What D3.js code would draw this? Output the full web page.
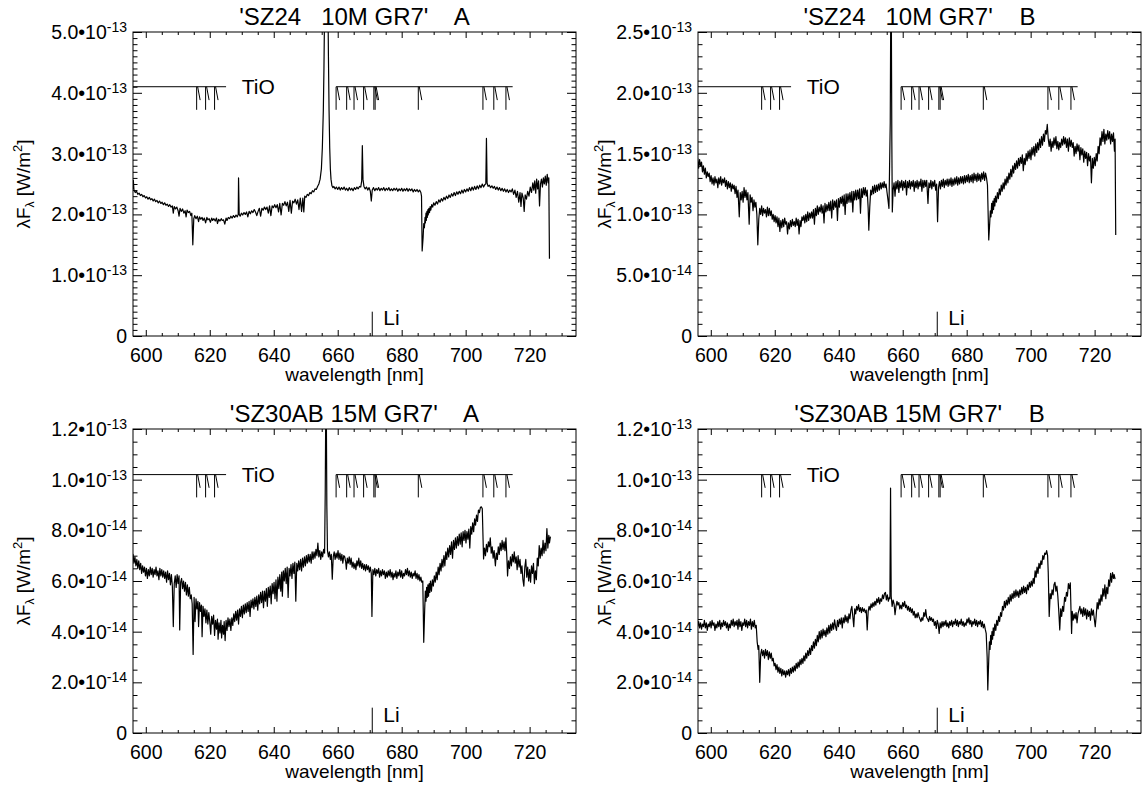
<!DOCTYPE html>
<html>
<head>
<meta charset="utf-8">
<title>SZ24 / SZ30AB spectra</title>
<script src="https://cdn.jsdelivr.net/npm/d3@7"></script>
<style>
  body { margin: 0; background: #fff; }
  svg text { font-family: "Liberation Sans", Arial, Helvetica, sans-serif; fill: #000; }
</style>
</head>
<body>
<svg id="chart" width="1145" height="788"></svg>
<script>
// spectra: [wavelength nm, lambda*F_lambda]
// SZ24 in units of 1e-13 W/m2
const sz24A = [[595.6,2.40],[596.0,2.44],[596.1,2.56],[596.3,2.40],[596.7,2.36],[597.1,2.38],[597.5,2.33],[597.9,2.35],[598.3,2.31],[598.7,2.33],[599.1,2.29],[599.5,2.31],[599.9,2.27],[600.3,2.29],[600.7,2.25],[601.1,2.28],[601.5,2.24],[601.9,2.26],[602.3,2.22],[602.7,2.25],[603.1,2.21],[603.5,2.23],[603.9,2.19],[604.3,2.22],[604.7,2.18],[605.1,2.20],[605.5,2.16],[605.9,2.19],[606.3,2.15],[606.7,2.17],[607.1,2.13],[607.5,2.16],[607.9,2.12],[608.3,2.14],[608.6,2.02],[608.9,2.13],[609.3,2.09],[609.7,2.12],[610.1,2.06],[610.4,1.97],[610.7,2.10],[611.1,2.05],[611.5,2.09],[611.9,2.02],[612.3,2.06],[612.6,1.96],[612.9,2.07],[613.3,2.03],[613.7,2.05],[614.1,1.98],[614.4,2.02],[614.7,1.50],[615.0,1.93],[615.3,1.98],[615.7,1.93],[616.1,1.97],[616.5,1.88],[616.8,1.96],[617.2,1.92],[617.6,1.95],[617.9,1.90],[618.3,1.94],[618.7,1.86],[619.1,1.95],[619.4,1.91],[619.8,1.93],[620.2,1.87],[620.6,1.94],[620.9,1.90],[621.3,1.93],[621.7,1.89],[622.1,1.94],[622.4,1.85],[622.8,1.92],[623.2,1.89],[623.6,1.93],[623.9,1.90],[624.3,1.91],[624.7,1.84],[625.1,1.94],[625.4,1.90],[625.8,1.95],[626.2,1.93],[626.6,1.97],[627.0,1.94],[627.4,1.98],[627.8,1.95],[628.2,1.99],[628.6,1.96],[628.9,2.00],[629.0,2.60],[629.2,2.00],[629.5,1.97],[629.9,2.02],[630.3,1.99],[630.7,2.03],[631.1,2.00],[631.5,2.04],[631.9,1.96],[632.3,2.05],[632.7,2.01],[633.1,2.06],[633.5,2.03],[633.9,2.08],[634.3,2.04],[634.7,1.98],[635.1,2.05],[635.5,2.10],[635.9,1.97],[636.3,2.10],[636.7,2.07],[637.1,2.12],[637.5,2.08],[637.9,2.12],[638.3,2.02],[638.7,2.14],[639.1,1.98],[639.5,2.14],[639.9,2.11],[640.3,2.16],[640.7,2.11],[641.1,2.16],[641.5,2.04],[641.9,2.18],[642.3,1.99],[642.7,2.18],[643.1,2.15],[643.5,2.21],[643.9,2.14],[644.3,2.20],[644.7,2.05],[645.1,2.23],[645.5,2.02],[645.9,2.22],[646.3,2.19],[646.7,2.25],[647.1,2.17],[647.5,2.24],[647.9,2.08],[648.3,2.27],[648.7,2.05],[649.1,2.27],[649.4,2.04],[649.7,2.30],[650.1,2.28],[650.5,2.33],[650.9,2.31],[651.3,2.36],[651.7,2.34],[652.1,2.39],[652.5,2.37],[652.9,2.42],[653.3,2.41],[653.7,2.46],[654.1,2.50],[654.5,2.58],[654.9,2.75],[655.2,3.1],[655.5,3.7],[655.7,4.4],[655.9,5.4],[656.1,6.5],[656.4,7.5],[656.7,7.0],[656.9,5.8],[657.1,4.6],[657.3,3.7],[657.5,3.1],[657.7,2.75],[657.9,2.58],[658.2,2.47],[658.5,2.44],[658.8,2.46],[659.2,2.42],[659.6,2.45],[660.0,2.41],[660.4,2.45],[660.8,2.40],[661.2,2.44],[661.6,2.41],[662.0,2.45],[662.4,2.40],[662.8,2.43],[663.2,2.39],[663.6,2.44],[664.0,2.40],[664.4,2.43],[664.8,2.39],[665.2,2.44],[665.6,2.41],[666.0,2.45],[666.4,2.42],[666.8,2.46],[667.2,2.45],[667.5,2.55],[667.7,3.13],[667.9,2.58],[668.2,2.46],[668.6,2.42],[669.0,2.45],[669.4,2.40],[669.8,2.44],[670.2,2.38],[670.5,2.22],[670.8,2.40],[671.2,2.44],[671.6,2.39],[672.0,2.43],[672.4,2.40],[672.8,2.44],[673.2,2.39],[673.6,2.43],[674.0,2.40],[674.4,2.44],[674.8,2.39],[675.2,2.43],[675.6,2.40],[676.0,2.44],[676.4,2.39],[676.8,2.42],[677.2,2.39],[677.6,2.43],[678.0,2.40],[678.4,2.43],[678.8,2.38],[679.2,2.42],[679.6,2.39],[680.0,2.43],[680.4,2.38],[680.8,2.42],[681.2,2.39],[681.6,2.43],[682.0,2.38],[682.4,2.42],[682.8,2.39],[683.2,2.42],[683.6,2.37],[684.0,2.41],[684.4,2.38],[684.8,2.41],[685.2,2.37],[685.6,2.40],[686.0,2.36],[686.2,2.30],[686.4,1.40],[686.7,1.62],[686.9,1.85],[687.1,1.78],[687.3,1.95],[687.4,1.86],[687.6,2.02],[687.7,1.90],[687.9,2.05],[688.0,1.95],[688.2,2.08],[688.3,1.99],[688.5,2.10],[688.7,2.03],[688.9,2.13],[689.1,2.07],[689.4,2.16],[689.7,2.12],[690.0,2.19],[690.4,2.15],[690.8,2.21],[691.2,2.17],[691.6,2.24],[692.0,2.20],[692.4,2.26],[692.8,2.22],[693.2,2.28],[693.6,2.24],[694.0,2.30],[694.4,2.26],[694.8,2.32],[695.2,2.28],[695.6,2.34],[696.0,2.30],[696.4,2.36],[696.8,2.31],[697.2,2.37],[697.6,2.33],[698.0,2.38],[698.4,2.34],[698.8,2.40],[699.2,2.35],[699.6,2.41],[700.0,2.37],[700.4,2.42],[700.8,2.38],[701.2,2.44],[701.6,2.39],[702.0,2.45],[702.4,2.40],[702.8,2.46],[703.2,2.41],[703.6,2.47],[704.0,2.42],[704.4,2.48],[704.8,2.44],[705.2,2.50],[705.6,2.45],[706.0,2.49],[706.3,2.50],[706.5,3.25],[706.7,2.52],[707.0,2.46],[707.4,2.48],[707.8,2.44],[708.2,2.47],[708.6,2.43],[709.0,2.46],[709.4,2.41],[709.8,2.45],[710.2,2.40],[710.6,2.44],[711.0,2.39],[711.4,2.43],[711.8,2.38],[712.2,2.42],[712.6,2.37],[713.0,2.41],[713.4,2.36],[713.8,2.40],[714.2,2.37],[714.6,2.42],[715.0,2.33],[715.4,2.40],[715.8,2.28],[716.2,2.38],[716.6,2.20],[717.0,2.36],[717.3,2.13],[717.6,2.35],[718.0,2.27],[718.3,2.05],[718.6,2.32],[719.0,2.25],[719.4,2.38],[719.8,2.30],[720.2,2.45],[720.6,2.36],[721.0,2.52],[721.3,2.40],[721.6,2.55],[721.9,2.35],[722.2,2.58],[722.5,2.42],[722.8,2.55],[723.1,2.14],[723.4,2.50],[723.7,2.58],[724.0,2.45],[724.3,2.60],[724.6,2.50],[724.9,2.63],[725.2,2.48],[725.5,2.66],[725.8,2.52],[726.0,2.60],[726.2,1.27]];

const sz24B = [[595.5,1.49],[595.7,1.42],[595.9,1.46],[596.2,1.38],[596.5,1.45],[596.8,1.40],[597.1,1.43],[597.4,1.35],[597.7,1.40],[598.0,1.33],[598.3,1.38],[598.6,1.30],[598.9,1.35],[599.2,1.31],[599.5,1.34],[599.8,1.27],[600.1,1.32],[600.4,1.25],[600.7,1.30],[601.0,1.24],[601.3,1.31],[601.6,1.26],[601.9,1.29],[602.2,1.22],[602.5,1.30],[602.8,1.25],[603.1,1.31],[603.4,1.24],[603.7,1.29],[604.0,1.26],[604.3,1.30],[604.6,1.23],[604.9,1.28],[605.2,1.21],[605.5,1.27],[605.8,1.22],[606.1,1.26],[606.4,1.19],[606.7,1.25],[607.0,1.21],[607.3,1.24],[607.6,1.17],[607.9,1.23],[608.2,1.14],[608.5,1.20],[608.9,0.98],[609.2,1.18],[609.5,1.12],[609.8,1.19],[610.1,1.10],[610.4,1.22],[610.7,1.14],[611.0,1.20],[611.3,1.12],[611.6,1.18],[612.0,0.92],[612.3,1.16],[612.6,1.10],[612.9,1.14],[613.2,1.03],[613.5,1.12],[613.8,1.06],[614.1,1.10],[614.4,1.00],[614.7,0.75],[615.0,0.96],[615.3,1.05],[615.6,1.00],[615.9,1.07],[616.2,0.99],[616.5,1.05],[616.8,1.01],[617.1,1.04],[617.4,0.98],[617.7,1.06],[618.0,0.99],[618.3,1.05],[618.6,0.99],[618.9,1.03],[619.2,0.96],[619.5,1.00],[619.8,0.94],[620.1,0.99],[620.4,0.93],[620.7,0.98],[621.0,0.90],[621.3,0.97],[621.6,0.86],[621.9,0.95],[622.2,0.89],[622.5,0.96],[622.8,0.90],[623.1,0.97],[623.4,0.92],[623.7,0.94],[624.0,0.84],[624.3,0.93],[624.6,0.88],[624.9,0.95],[625.2,0.90],[625.5,0.96],[625.8,0.91],[626.1,0.94],[626.4,0.90],[626.7,0.97],[627.0,0.91],[627.3,0.96],[627.6,0.84],[627.9,0.95],[628.2,0.90],[628.5,0.98],[628.8,0.95],[629.1,0.99],[629.4,0.93],[629.7,1.00],[630.0,0.94],[630.3,1.02],[630.6,0.95],[630.9,1.01],[631.2,0.97],[631.5,1.02],[631.8,0.97],[632.1,1.04],[632.4,0.92],[632.7,1.05],[633.0,0.99],[633.3,1.07],[633.6,1.00],[633.9,1.06],[634.2,1.02],[634.5,1.08],[634.8,1.01],[635.1,1.07],[635.4,0.93],[635.7,1.09],[636.0,1.02],[636.3,1.08],[636.6,1.03],[636.9,1.10],[637.2,1.03],[637.5,1.11],[637.8,0.97],[638.1,1.12],[638.4,1.04],[638.7,1.11],[639.0,1.06],[639.3,1.12],[639.6,0.95],[639.9,1.13],[640.2,1.06],[640.5,1.14],[640.8,1.09],[641.1,1.15],[641.4,1.07],[641.7,1.16],[642.0,1.00],[642.3,1.17],[642.6,1.09],[642.9,1.17],[643.2,1.10],[643.5,1.18],[643.8,1.10],[644.1,1.19],[644.4,1.02],[644.7,1.19],[645.0,1.12],[645.3,1.20],[645.6,1.12],[645.9,1.20],[646.2,1.13],[646.5,1.21],[646.8,1.01],[647.1,1.21],[647.4,1.14],[647.7,1.22],[648.0,1.16],[648.3,1.22],[648.6,1.15],[648.9,1.20],[649.2,1.05],[649.4,0.87],[649.7,1.06],[650.0,1.20],[650.3,1.16],[650.6,1.23],[650.9,1.17],[651.2,1.24],[651.5,1.18],[651.8,1.24],[652.1,1.19],[652.4,1.25],[652.7,1.20],[653.0,1.26],[653.3,1.21],[653.6,1.26],[653.9,1.22],[654.2,1.27],[654.5,1.22],[654.8,1.25],[655.1,1.18],[655.4,1.12],[655.7,1.05],[655.9,1.40],[656.1,1.75],[656.25,2.60],[656.45,2.60],[656.6,1.60],[656.75,1.02],[657.0,1.20],[657.3,1.26],[657.6,1.15],[657.9,1.27],[658.2,1.21],[658.5,1.28],[658.8,1.18],[659.1,1.27],[659.4,1.22],[659.7,1.28],[660.0,1.20],[660.3,1.27],[660.6,1.22],[660.9,1.28],[661.2,1.16],[661.5,1.27],[661.8,1.22],[662.1,1.28],[662.4,1.21],[662.7,1.27],[663.0,1.23],[663.3,1.28],[663.6,1.19],[663.9,1.27],[664.2,1.22],[664.5,1.28],[664.8,1.21],[665.1,1.27],[665.4,1.23],[665.7,1.29],[666.0,1.19],[666.3,1.28],[666.6,1.22],[666.9,1.28],[667.2,1.23],[667.5,1.28],[667.9,1.09],[668.2,1.26],[668.5,1.22],[668.8,1.28],[669.1,1.21],[669.4,1.27],[669.7,1.23],[670.0,1.28],[670.3,1.20],[670.6,1.25],[670.9,0.94],[671.2,1.22],[671.5,1.27],[671.8,1.21],[672.1,1.28],[672.4,1.23],[672.7,1.29],[673.0,1.22],[673.3,1.28],[673.6,1.24],[673.9,1.29],[674.2,1.23],[674.5,1.29],[674.8,1.24],[675.1,1.30],[675.4,1.23],[675.7,1.29],[676.0,1.24],[676.3,1.30],[676.6,1.25],[676.9,1.31],[677.2,1.24],[677.5,1.30],[677.8,1.25],[678.1,1.31],[678.4,1.26],[678.7,1.31],[679.0,1.25],[679.3,1.32],[679.6,1.26],[679.9,1.32],[680.2,1.27],[680.5,1.33],[680.8,1.26],[681.1,1.32],[681.4,1.27],[681.7,1.33],[682.0,1.26],[682.3,1.34],[682.6,1.28],[682.9,1.33],[683.2,1.27],[683.5,1.34],[683.8,1.28],[684.1,1.33],[684.4,1.27],[684.7,1.34],[685.0,1.29],[685.3,1.35],[685.6,1.28],[685.9,1.34],[686.2,1.30],[686.5,1.24],[686.9,0.79],[687.2,0.93],[687.4,1.03],[687.6,0.98],[687.8,1.09],[688.0,1.01],[688.2,1.11],[688.4,1.04],[688.6,1.13],[688.8,1.07],[689.0,1.15],[689.3,1.10],[689.6,1.18],[689.9,1.13],[690.2,1.21],[690.5,1.16],[690.8,1.24],[691.1,1.19],[691.4,1.26],[691.7,1.21],[692.0,1.29],[692.3,1.24],[692.6,1.31],[692.9,1.26],[693.2,1.34],[693.5,1.29],[693.8,1.37],[694.1,1.31],[694.4,1.40],[694.7,1.34],[695.0,1.42],[695.3,1.37],[695.6,1.44],[695.9,1.38],[696.2,1.46],[696.5,1.40],[696.8,1.47],[697.1,1.42],[697.4,1.49],[697.7,1.36],[698.0,1.46],[698.3,1.41],[698.6,1.50],[698.9,1.44],[699.2,1.52],[699.5,1.46],[699.8,1.53],[700.1,1.45],[700.4,1.55],[700.7,1.49],[701.0,1.56],[701.3,1.48],[701.6,1.58],[701.9,1.51],[702.2,1.59],[702.5,1.53],[702.8,1.62],[703.1,1.55],[703.4,1.64],[703.7,1.57],[704.0,1.66],[704.3,1.60],[704.6,1.69],[704.9,1.66],[705.2,1.74],[705.5,1.62],[705.8,1.56],[706.1,1.62],[706.4,1.52],[706.7,1.60],[707.0,1.55],[707.3,1.63],[707.6,1.57],[707.9,1.64],[708.2,1.54],[708.5,1.60],[708.8,1.53],[709.1,1.59],[709.4,1.55],[709.7,1.62],[710.0,1.57],[710.3,1.64],[710.6,1.58],[710.9,1.63],[711.2,1.55],[711.5,1.62],[711.8,1.52],[712.1,1.63],[712.4,1.56],[712.7,1.61],[713.0,1.55],[713.3,1.59],[713.6,1.48],[713.9,1.56],[714.2,1.50],[714.5,1.58],[714.8,1.52],[715.1,1.57],[715.4,1.45],[715.7,1.55],[716.0,1.49],[716.3,1.54],[716.6,1.43],[716.9,1.52],[717.2,1.46],[717.5,1.51],[717.8,1.40],[718.1,1.50],[718.4,1.44],[718.7,1.48],[719.0,1.26],[719.3,1.46],[719.6,1.38],[719.9,1.47],[720.2,1.40],[720.5,1.50],[720.8,1.44],[721.1,1.56],[721.4,1.50],[721.7,1.63],[722.0,1.57],[722.3,1.68],[722.6,1.60],[722.9,1.70],[723.2,1.58],[723.5,1.66],[723.8,1.61],[724.1,1.69],[724.4,1.62],[724.7,1.68],[725.0,1.58],[725.3,1.66],[725.6,1.60],[725.9,1.67],[726.2,1.52],[726.4,1.62],[726.6,0.83]];

// SZ30AB in units of 1e-14 W/m2
const sz30A = [[595.4,7.20],[595.7,6.85],[596.0,7.05],[596.3,6.70],[596.6,6.95],[596.9,6.60],[597.2,6.85],[597.5,6.50],[597.8,6.80],[598.1,6.45],[598.4,6.70],[598.7,6.30],[599.0,6.60],[599.3,6.35],[599.6,6.55],[599.9,6.20],[600.2,6.50],[600.5,6.10],[600.8,6.45],[601.1,6.20],[601.4,6.55],[601.7,6.25],[602.0,6.50],[602.3,6.15],[602.6,6.45],[602.9,6.25],[603.2,6.55],[603.5,6.20],[603.8,6.40],[604.1,6.05],[604.4,6.50],[604.7,6.20],[605.0,6.45],[605.3,6.15],[605.6,6.40],[605.9,6.10],[606.2,6.35],[606.5,5.95],[606.8,6.40],[607.1,6.05],[607.4,6.30],[607.7,5.85],[608.0,6.25],[608.3,5.80],[608.6,4.20],[608.9,5.90],[609.2,6.20],[609.5,5.75],[609.8,6.25],[610.1,5.90],[610.4,6.20],[610.6,4.07],[610.9,5.95],[611.2,6.10],[611.5,5.70],[611.8,6.00],[612.1,5.60],[612.4,5.95],[612.7,5.45],[613.0,5.85],[613.3,5.40],[613.6,5.75],[613.9,5.30],[614.2,5.45],[614.5,5.10],[614.8,3.10],[615.1,5.35],[615.4,4.40],[615.7,5.30],[616.0,4.90],[616.3,5.20],[616.5,4.20],[616.8,5.15],[617.1,4.80],[617.4,5.05],[617.6,3.80],[617.9,5.00],[618.2,4.60],[618.5,4.90],[618.8,4.35],[619.1,4.85],[619.4,4.30],[619.7,4.75],[620.0,4.40],[620.3,3.90],[620.6,4.60],[620.9,4.30],[621.2,4.65],[621.5,3.85],[621.8,4.45],[622.1,4.10],[622.4,4.50],[622.6,3.70],[622.9,4.35],[623.2,3.95],[623.5,4.45],[623.7,3.75],[624.0,4.25],[624.3,3.90],[624.5,4.40],[624.8,3.65],[625.1,4.45],[625.4,4.05],[625.7,4.55],[626.0,4.20],[626.3,4.50],[626.6,4.05],[626.9,4.55],[627.2,4.25],[627.5,4.70],[627.8,4.40],[628.1,4.80],[628.4,4.45],[628.7,4.85],[629.0,4.30],[629.3,4.90],[629.6,4.60],[629.9,5.00],[630.2,4.55],[630.5,5.05],[630.8,4.70],[631.1,5.10],[631.4,4.75],[631.7,5.15],[632.0,4.80],[632.3,5.20],[632.6,4.60],[632.9,5.25],[633.2,4.95],[633.5,5.30],[633.8,4.90],[634.1,5.35],[634.4,5.00],[634.7,5.40],[635.0,4.85],[635.3,5.45],[635.6,5.10],[635.9,5.55],[636.2,5.15],[636.5,5.60],[636.8,4.95],[637.1,5.60],[637.4,5.20],[637.7,5.70],[638.0,5.00],[638.3,5.75],[638.6,5.35],[638.9,5.80],[639.2,5.10],[639.5,5.90],[639.8,5.50],[640.1,5.95],[640.4,5.30],[640.7,6.05],[641.0,5.20],[641.3,6.15],[641.6,5.70],[641.9,6.25],[642.2,5.60],[642.5,6.35],[642.7,5.40],[643.0,6.40],[643.3,6.00],[643.6,6.50],[643.9,5.90],[644.2,6.55],[644.5,5.35],[644.8,6.50],[645.1,6.20],[645.4,6.65],[645.7,6.10],[646.0,6.70],[646.3,6.30],[646.6,6.75],[646.9,5.20],[647.2,6.70],[647.5,6.40],[647.8,6.80],[648.1,6.45],[648.4,6.85],[648.7,6.40],[649.0,6.90],[649.3,6.55],[649.6,6.95],[649.9,6.60],[650.2,7.00],[650.5,6.70],[650.8,7.05],[651.1,6.75],[651.4,7.05],[651.7,6.70],[652.0,7.15],[652.3,6.85],[652.6,7.15],[652.9,6.90],[653.2,7.25],[653.5,7.00],[653.8,7.50],[654.1,6.95],[654.4,7.20],[654.7,6.85],[655.0,7.15],[655.3,6.95],[655.6,7.25],[655.9,7.10],[656.1,9.5],[656.25,12.5],[656.45,12.5],[656.6,9.0],[656.8,7.20],[657.1,6.95],[657.4,7.15],[657.7,6.85],[658.0,7.05],[658.3,6.07],[658.6,6.95],[658.9,7.15],[659.2,6.85],[659.5,7.10],[659.8,6.90],[660.1,7.20],[660.4,6.85],[660.7,7.10],[661.0,6.80],[661.3,7.05],[661.6,6.70],[661.9,7.00],[662.2,6.95],[662.5,6.75],[662.7,6.47],[663.0,6.90],[663.3,6.70],[663.6,6.95],[663.9,6.65],[664.2,6.90],[664.5,6.55],[664.8,6.75],[665.1,6.50],[665.4,6.70],[665.7,6.45],[666.0,6.80],[666.3,6.60],[666.6,6.90],[666.9,6.55],[667.2,6.80],[667.5,6.50],[667.8,6.70],[668.1,6.45],[668.4,6.65],[668.7,6.40],[669.0,6.65],[669.3,6.45],[669.6,6.60],[669.9,6.35],[670.2,6.55],[670.5,6.30],[670.7,4.60],[671.0,6.45],[671.3,6.25],[671.6,6.50],[671.9,6.20],[672.2,6.45],[672.5,6.30],[672.8,6.50],[673.1,6.15],[673.4,6.40],[673.7,6.20],[674.0,6.45],[674.3,6.25],[674.6,6.40],[674.9,6.10],[675.2,6.35],[675.5,6.15],[675.8,6.40],[676.1,6.20],[676.4,6.45],[676.7,6.15],[677.0,6.35],[677.3,6.05],[677.6,6.30],[677.9,6.15],[678.2,6.40],[678.5,6.10],[678.8,6.35],[679.1,6.20],[679.4,6.45],[679.7,6.15],[680.0,6.40],[680.3,6.10],[680.6,6.30],[680.9,6.20],[681.2,6.45],[681.5,6.25],[681.8,6.50],[682.1,6.20],[682.4,6.40],[682.7,6.15],[683.0,6.35],[683.3,6.10],[683.6,6.30],[683.9,6.20],[684.2,6.40],[684.5,6.10],[684.8,6.30],[685.1,6.05],[685.4,6.25],[685.7,6.00],[686.0,6.15],[686.3,5.95],[686.6,6.00],[686.9,3.58],[687.2,4.90],[687.4,5.60],[687.6,5.20],[687.8,5.75],[688.0,5.35],[688.2,5.85],[688.4,5.40],[688.6,5.90],[688.8,5.55],[689.0,6.00],[689.3,5.60],[689.6,6.05],[689.9,5.80],[690.2,6.20],[690.5,5.95],[690.8,6.35],[691.1,6.05],[691.4,6.55],[691.7,6.25],[692.0,6.70],[692.3,6.40],[692.6,6.85],[692.9,6.55],[693.2,7.00],[693.5,6.60],[693.8,7.15],[694.1,6.85],[694.4,7.30],[694.7,6.95],[695.0,7.40],[695.3,7.05],[695.6,7.55],[695.9,6.90],[696.2,7.60],[696.5,7.25],[696.8,7.70],[697.1,7.30],[697.4,7.75],[697.7,7.40],[698.0,7.85],[698.3,7.45],[698.6,7.90],[698.9,7.35],[699.2,7.95],[699.5,7.60],[699.8,8.00],[700.1,7.50],[700.4,7.95],[700.7,7.65],[701.0,8.05],[701.3,7.30],[701.6,8.15],[701.9,7.85],[702.2,8.30],[702.5,7.95],[702.8,8.45],[703.1,8.20],[703.4,8.60],[703.7,8.35],[704.0,8.80],[704.3,8.70],[704.6,8.90],[704.9,8.93],[705.2,8.85],[705.6,6.87],[705.9,7.30],[706.2,7.00],[706.5,7.45],[706.8,7.15],[707.1,7.55],[707.4,7.35],[707.7,7.70],[708.0,7.10],[708.3,7.35],[708.6,6.90],[708.9,7.20],[709.3,6.60],[709.6,7.10],[709.9,6.85],[710.2,7.35],[710.5,7.05],[710.8,7.50],[711.1,7.20],[711.4,7.60],[711.7,7.25],[712.0,7.55],[712.3,7.20],[712.6,7.70],[712.9,6.90],[713.1,6.20],[713.4,6.80],[713.7,6.50],[714.0,6.95],[714.3,6.60],[714.6,7.05],[714.9,6.75],[715.2,7.15],[715.5,6.70],[715.8,6.95],[716.1,6.45],[716.4,7.00],[716.7,6.55],[717.0,6.85],[717.3,6.30],[717.6,6.60],[717.9,6.05],[718.2,5.80],[718.5,6.55],[718.8,6.85],[719.1,6.15],[719.4,6.55],[719.7,6.00],[720.0,6.45],[720.3,5.95],[720.6,6.60],[720.9,6.30],[721.2,6.70],[721.5,5.90],[721.8,6.40],[722.1,6.05],[722.4,6.90],[722.7,6.60],[723.0,7.40],[723.3,6.90],[723.6,7.30],[723.9,7.00],[724.2,7.60],[724.5,7.10],[724.8,7.50],[725.1,7.20],[725.4,8.07],[725.7,7.30],[726.0,7.80],[726.2,7.50],[726.5,7.75]];

const sz30B = [[595.9,4.20],[596.2,4.40],[596.5,4.15],[596.8,4.35],[597.1,4.10],[597.4,4.30],[597.7,4.20],[598.0,4.45],[598.3,4.15],[598.6,4.35],[598.9,4.05],[599.2,4.30],[599.5,4.20],[599.8,4.40],[600.1,4.15],[600.4,4.45],[600.7,4.25],[601.0,4.35],[601.3,4.05],[601.6,4.30],[601.9,4.15],[602.2,4.40],[602.5,4.20],[602.8,4.45],[603.1,4.10],[603.4,4.35],[603.7,4.20],[604.0,4.45],[604.3,4.25],[604.6,4.40],[604.9,4.15],[605.2,4.35],[605.5,4.05],[605.8,4.30],[606.1,4.15],[606.4,4.45],[606.7,4.25],[607.0,4.50],[607.3,4.20],[607.6,4.40],[607.9,4.25],[608.2,4.45],[608.5,4.10],[608.8,4.50],[609.1,4.20],[609.4,4.40],[609.7,4.05],[610.0,4.35],[610.3,4.25],[610.6,4.50],[610.9,4.20],[611.2,4.45],[611.5,4.15],[611.8,4.40],[612.1,4.25],[612.4,4.50],[612.7,4.10],[613.0,4.40],[613.3,4.20],[613.6,4.45],[613.9,4.15],[614.2,4.25],[614.5,3.60],[614.8,3.30],[615.0,3.45],[615.3,2.00],[615.6,3.10],[615.9,3.30],[616.2,3.05],[616.5,3.25],[616.8,2.95],[617.1,3.30],[617.4,3.05],[617.7,3.25],[618.0,2.90],[618.3,3.20],[618.6,2.95],[618.9,3.15],[619.2,2.85],[619.5,2.95],[619.8,2.65],[620.1,2.75],[620.4,2.50],[620.7,2.70],[621.0,2.40],[621.3,2.60],[621.6,2.35],[621.9,2.55],[622.2,2.25],[622.5,2.50],[622.8,2.30],[623.1,2.45],[623.4,2.20],[623.7,2.45],[624.0,2.30],[624.3,2.50],[624.6,2.25],[624.9,2.55],[625.2,2.35],[625.5,2.60],[625.8,2.40],[626.1,2.65],[626.4,2.45],[626.7,2.75],[627.0,2.55],[627.3,2.80],[627.6,2.60],[627.9,2.90],[628.2,2.70],[628.5,2.95],[628.8,2.75],[629.1,3.05],[629.4,2.85],[629.7,3.15],[630.0,2.95],[630.3,3.25],[630.6,3.05],[630.9,3.35],[631.2,3.10],[631.5,3.45],[631.8,3.25],[632.1,3.60],[632.4,3.35],[632.7,3.70],[633.0,3.45],[633.3,3.85],[633.6,3.60],[633.9,4.00],[634.2,3.70],[634.5,4.05],[634.8,3.75],[635.1,4.10],[635.4,3.85],[635.7,4.05],[636.0,3.80],[636.3,4.15],[636.6,3.90],[636.9,4.25],[637.2,3.95],[637.5,4.30],[637.8,4.05],[638.1,4.35],[638.4,4.10],[638.7,4.47],[639.0,4.20],[639.3,4.05],[639.6,4.45],[639.9,4.20],[640.2,4.50],[640.5,4.30],[640.8,4.55],[641.1,4.15],[641.4,4.55],[641.7,4.35],[642.0,4.65],[642.3,4.40],[642.6,4.60],[642.9,4.35],[643.2,4.70],[643.5,4.50],[643.8,4.85],[644.1,5.00],[644.4,4.60],[644.7,4.20],[645.0,4.90],[645.3,4.70],[645.6,5.00],[645.9,4.85],[646.2,5.07],[646.5,4.80],[646.8,4.95],[647.1,4.75],[647.4,4.95],[647.7,4.80],[648.0,4.90],[648.3,4.75],[648.6,4.85],[648.9,4.07],[649.2,4.80],[649.5,5.00],[649.8,4.85],[650.1,5.10],[650.4,4.95],[650.7,5.15],[651.0,5.00],[651.3,5.20],[651.6,5.05],[651.9,5.30],[652.2,5.15],[652.5,5.35],[652.8,5.10],[653.1,5.30],[653.4,5.20],[653.7,5.45],[654.0,5.30],[654.3,5.50],[654.6,5.55],[654.9,5.25],[655.2,5.45],[655.5,5.20],[655.8,5.35],[656.0,5.30],[656.2,9.67],[656.4,5.40],[656.7,5.00],[657.0,5.25],[657.3,5.10],[657.6,4.67],[657.9,5.00],[658.2,5.20],[658.5,5.05],[658.8,5.15],[659.1,4.90],[659.4,5.05],[659.7,4.90],[660.0,5.15],[660.3,5.00],[660.6,5.20],[660.9,4.95],[661.2,5.05],[661.5,4.85],[661.8,5.00],[662.1,4.80],[662.4,4.95],[662.7,4.75],[663.0,4.90],[663.3,4.65],[663.6,4.80],[663.9,4.55],[664.2,4.70],[664.5,4.55],[664.8,4.75],[665.1,4.60],[665.4,4.50],[665.7,4.40],[666.0,4.55],[666.3,4.45],[666.6,4.75],[666.9,4.60],[667.2,4.87],[667.5,4.55],[667.8,4.50],[668.1,4.40],[668.4,4.60],[668.7,4.45],[669.0,4.55],[669.3,4.40],[669.6,4.50],[669.9,4.25],[670.2,4.40],[670.5,4.13],[670.8,4.45],[671.1,4.30],[671.4,3.93],[671.7,4.35],[672.0,4.15],[672.3,4.40],[672.6,4.20],[672.9,4.40],[673.2,4.25],[673.5,4.45],[673.8,4.20],[674.1,4.35],[674.4,4.15],[674.7,4.40],[675.0,4.25],[675.3,4.45],[675.6,4.20],[675.9,4.40],[676.2,4.30],[676.5,4.50],[676.8,4.25],[677.1,4.45],[677.4,4.20],[677.7,4.40],[678.0,4.30],[678.3,4.50],[678.6,4.25],[678.9,4.40],[679.2,4.20],[679.5,4.35],[679.8,4.25],[680.1,4.50],[680.4,4.35],[680.7,4.55],[681.0,4.30],[681.3,4.45],[681.6,4.20],[681.9,4.40],[682.2,4.30],[682.5,4.50],[682.8,4.25],[683.1,4.45],[683.4,4.20],[683.7,4.40],[684.0,4.30],[684.3,4.45],[684.6,4.20],[684.9,4.40],[685.2,4.15],[685.5,4.30],[685.8,4.10],[686.1,3.93],[686.4,3.00],[686.6,1.70],[686.9,2.90],[687.1,3.60],[687.3,3.30],[687.5,3.85],[687.7,3.50],[687.9,4.00],[688.1,3.70],[688.3,4.15],[688.5,3.85],[688.8,4.30],[689.1,4.05],[689.4,4.45],[689.7,4.25],[690.0,4.60],[690.3,4.40],[690.6,4.75],[690.9,4.60],[691.2,5.00],[691.5,4.85],[691.8,5.20],[692.1,4.95],[692.4,5.25],[692.7,5.05],[693.0,5.35],[693.3,5.10],[693.6,5.45],[693.9,5.20],[694.2,5.50],[694.5,5.30],[694.8,5.60],[695.1,5.35],[695.4,5.65],[695.7,5.40],[696.0,5.60],[696.3,5.35],[696.6,5.65],[696.9,5.45],[697.2,5.75],[697.5,5.50],[697.8,5.80],[698.1,5.55],[698.4,5.75],[698.7,5.50],[699.0,5.85],[699.3,5.65],[699.6,5.95],[699.9,5.75],[700.2,6.00],[700.5,5.80],[700.8,6.10],[701.1,5.90],[701.4,6.40],[701.7,6.15],[702.0,6.55],[702.3,6.30],[702.6,6.70],[702.9,6.50],[703.2,6.80],[703.5,6.65],[703.8,7.00],[704.1,6.85],[704.4,7.10],[704.7,7.05],[705.0,7.20],[705.3,7.00],[705.5,6.33],[705.8,4.60],[706.1,5.50],[706.4,5.30],[706.7,5.65],[707.0,5.45],[707.3,5.85],[707.6,5.95],[707.9,5.60],[708.2,5.80],[708.5,5.40],[708.8,4.80],[709.1,4.07],[709.4,4.90],[709.7,4.60],[710.0,5.00],[710.3,4.80],[710.6,5.35],[710.9,5.20],[711.2,5.55],[711.5,5.40],[711.8,5.90],[712.1,5.70],[712.4,5.93],[712.8,3.93],[713.0,4.80],[713.3,4.45],[713.6,4.70],[713.9,4.50],[714.2,4.75],[714.5,4.35],[714.8,4.70],[715.1,4.85],[715.4,5.00],[715.7,4.70],[716.0,4.90],[716.3,4.60],[716.6,4.95],[716.9,4.65],[717.2,4.90],[717.5,4.50],[717.8,4.85],[718.1,4.60],[718.4,4.80],[718.7,4.45],[719.0,4.90],[719.3,4.65],[719.6,4.85],[719.9,4.50],[720.2,4.20],[720.5,4.65],[720.8,5.15],[721.1,4.90],[721.4,5.30],[721.7,5.05],[722.0,5.45],[722.3,5.20],[722.6,5.70],[722.9,5.40],[723.2,5.85],[723.5,5.30],[723.8,5.75],[724.1,5.50],[724.4,6.05],[724.7,5.80],[725.0,6.30],[725.3,5.95],[725.6,6.33],[725.9,6.10],[726.1,6.25],[726.4,6.07]];

// panel titles
const titles = ["'SZ24   10M GR7'    A", "'SZ24   10M GR7'    B", "'SZ30AB 15M GR7'    A", "'SZ30AB 15M GR7'    B"];

// axis ticks
const xRange = [596.0, 734.5];
const xMajor = [600, 620, 640, 660, 680, 700, 720];
const yTicksSZ24A = [0, 1, 2, 3, 4, 5];
const yMantSZ24A = ["0", "1.0", "2.0", "3.0", "4.0", "5.0"];
const yExpSZ24A = ["", "-13", "-13", "-13", "-13", "-13"];
const yTicksSZ24B = [0, 0.5, 1, 1.5, 2, 2.5];
const yMantSZ24B = ["0", "5.0", "1.0", "1.5", "2.0", "2.5"];
const yExpSZ24B = ["", "-14", "-13", "-13", "-13", "-13"];
const yTicksSZ30 = [0, 2, 4, 6, 8, 10, 12];
const yMantSZ30 = ["0", "2.0", "4.0", "6.0", "8.0", "1.0", "1.2"];
const yExpSZ30 = ["", "-14", "-14", "-14", "-14", "-13", "-13"];

// line identifications (nm)
const tioBandsLeft = [615.9, 618.7, 621.5];
const tioBandsRight = [659.5, 662.8, 665.1, 668.1, 671.3, 671.7, 685.2, 705.4, 708.8, 712.6];
const tioSegLeft = [590, 625.1];
const tioSegRight = [659.5, 714.7];
const tioLabelAt = 630.0;
const liLine = 670.8;

const plotW = 443, plotH = 304;
const colX = [133, 698], rowY = [32, 429];
const yTitleOffset = [-103, -87];

const panels = [
  {col: 0, row: 0, title: titles[0], data: sz24A, yMax: 5, ticks: yTicksSZ24A, mant: yMantSZ24A, exp: yExpSZ24A, minor: 50, tio: 4.1, drop: 0.38, li: 0.4},
  {col: 1, row: 0, title: titles[1], data: sz24B, yMax: 2.5, ticks: yTicksSZ24B, mant: yMantSZ24B, exp: yExpSZ24B, minor: 25, tio: 2.05, drop: 0.19, li: 0.2},
  {col: 0, row: 1, title: titles[2], data: sz30A, yMax: 12, ticks: yTicksSZ30, mant: yMantSZ30, exp: yExpSZ30, minor: 24, tio: 10.2, drop: 0.9, li: 1.0},
  {col: 1, row: 1, title: titles[3], data: sz30B, yMax: 12, ticks: yTicksSZ30, mant: yMantSZ30, exp: yExpSZ30, minor: 24, tio: 10.2, drop: 0.9, li: 1.0}
];

const svg = d3.select("#chart");
const ink = "#000";

panels.forEach((p, i) => {
  const x = d3.scaleLinear().domain(xRange).range([0, plotW]);
  const y = d3.scaleLinear().domain([0, p.yMax]).range([plotH, 0]);
  const g = svg.append("g").attr("transform", `translate(${colX[p.col]},${rowY[p.row]})`);

  g.append("clipPath").attr("id", "clip" + i)
    .append("rect").attr("width", plotW).attr("height", plotH);

  const xMinor = x.ticks(28).filter(v => !xMajor.includes(v));
  const yMinor = y.ticks(p.minor).filter(v => !p.ticks.some(t => Math.abs(t - v) < 1e-9));

  const strip = s => s.call(a => a.select(".domain").remove());

  // ticks, inward on all four sides
  g.append("g").attr("transform", `translate(0,${plotH})`)
    .call(d3.axisBottom(x).tickValues(xMajor).tickSize(-6).tickPadding(12).tickFormat(d3.format("d")))
    .call(strip)
    .call(a => a.selectAll("text").attr("font-size", 19.5).attr("fill", ink));
  g.append("g").attr("transform", `translate(0,${plotH})`)
    .call(d3.axisBottom(x).tickValues(xMinor).tickSize(-3).tickFormat("")).call(strip);
  g.append("g").call(d3.axisTop(x).tickValues(xMajor).tickSize(-6).tickFormat("")).call(strip);
  g.append("g").call(d3.axisTop(x).tickValues(xMinor).tickSize(-3).tickFormat("")).call(strip);
  g.append("g").call(d3.axisLeft(y).tickValues(p.ticks).tickSize(-9).tickFormat("")).call(strip);
  g.append("g").call(d3.axisLeft(y).tickValues(yMinor).tickSize(-4.5).tickFormat("")).call(strip);
  g.append("g").attr("transform", `translate(${plotW},0)`)
    .call(d3.axisRight(y).tickValues(p.ticks).tickSize(-9).tickFormat("")).call(strip);
  g.append("g").attr("transform", `translate(${plotW},0)`)
    .call(d3.axisRight(y).tickValues(yMinor).tickSize(-4.5).tickFormat("")).call(strip);
  g.selectAll(".tick line").attr("stroke", ink);

  g.append("rect").attr("width", plotW).attr("height", plotH)
    .attr("fill", "none").attr("stroke", ink).attr("stroke-width", 1);

  // y tick labels: mantissa•10^exp
  p.ticks.forEach((t, k) => {
    const lab = g.append("text").attr("x", -6).attr("y", y(t)).attr("dy", "0.36em")
      .attr("text-anchor", "end").attr("font-size", 19.5);
    lab.append("tspan").text(p.mant[k] + (p.exp[k] ? "\u202210" : ""));
    if (p.exp[k]) lab.append("tspan").attr("dy", "-0.5em").attr("font-size", 14).text(p.exp[k]);
  });

  // axis titles
  g.append("text").attr("x", plotW / 2).attr("y", plotH + 45).attr("text-anchor", "middle")
    .attr("font-size", 19).text("wavelength [nm]");
  const yl = g.append("text").attr("transform", `translate(${yTitleOffset[p.col]},${plotH / 2}) rotate(-90)`)
    .attr("text-anchor", "middle").attr("font-size", 19);
  yl.append("tspan").text("\u03bbF");
  yl.append("tspan").attr("font-size", 12).attr("dy", 4).text("\u03bb");
  yl.append("tspan").attr("dy", -4).text(" [W/m");
  yl.append("tspan").attr("font-size", 13).attr("dy", -8).text("2");
  yl.append("tspan").attr("dy", 8).text("]");

  g.append("text").attr("x", plotW / 2).attr("y", -7).attr("text-anchor", "middle")
    .attr("font-size", 24).style("white-space", "pre").text(p.title);

  const body = g.append("g").attr("clip-path", `url(#clip${i})`);

  // spectrum
  body.append("path").datum(p.data)
    .attr("fill", "none").attr("stroke", ink).attr("stroke-width", 1.2).attr("stroke-linejoin", "round")
    .attr("d", d3.line().x(d => x(d[0])).y(d => y(d[1])));

  // TiO band heads
  [tioSegLeft, tioSegRight].forEach(seg => {
    body.append("line").attr("x1", x(seg[0])).attr("x2", x(seg[1]))
      .attr("y1", y(p.tio)).attr("y2", y(p.tio)).attr("stroke", ink);
  });
  tioBandsLeft.concat(tioBandsRight).forEach(w => {
    body.append("path").attr("stroke", ink).attr("fill", "none")
      .attr("d", `M${x(w)},${y(p.tio)}V${y(p.tio - p.drop)}M${x(w) + 1},${y(p.tio)}L${x(w) + 3.5},${y(p.tio - 0.58 * p.drop)}`);
  });
  g.append("text").attr("x", x(tioLabelAt)).attr("y", y(p.tio)).attr("dy", "0.36em")
    .attr("font-size", 21).text("TiO");

  // Li 670.8 nm
  body.append("line").attr("x1", x(liLine)).attr("x2", x(liLine))
    .attr("y1", y(0)).attr("y2", y(p.li)).attr("stroke", ink);
  g.append("text").attr("x", x(liLine) + 11).attr("y", plotH - 11)
    .attr("font-size", 21).text("Li");
});
</script>
</body>
</html>
